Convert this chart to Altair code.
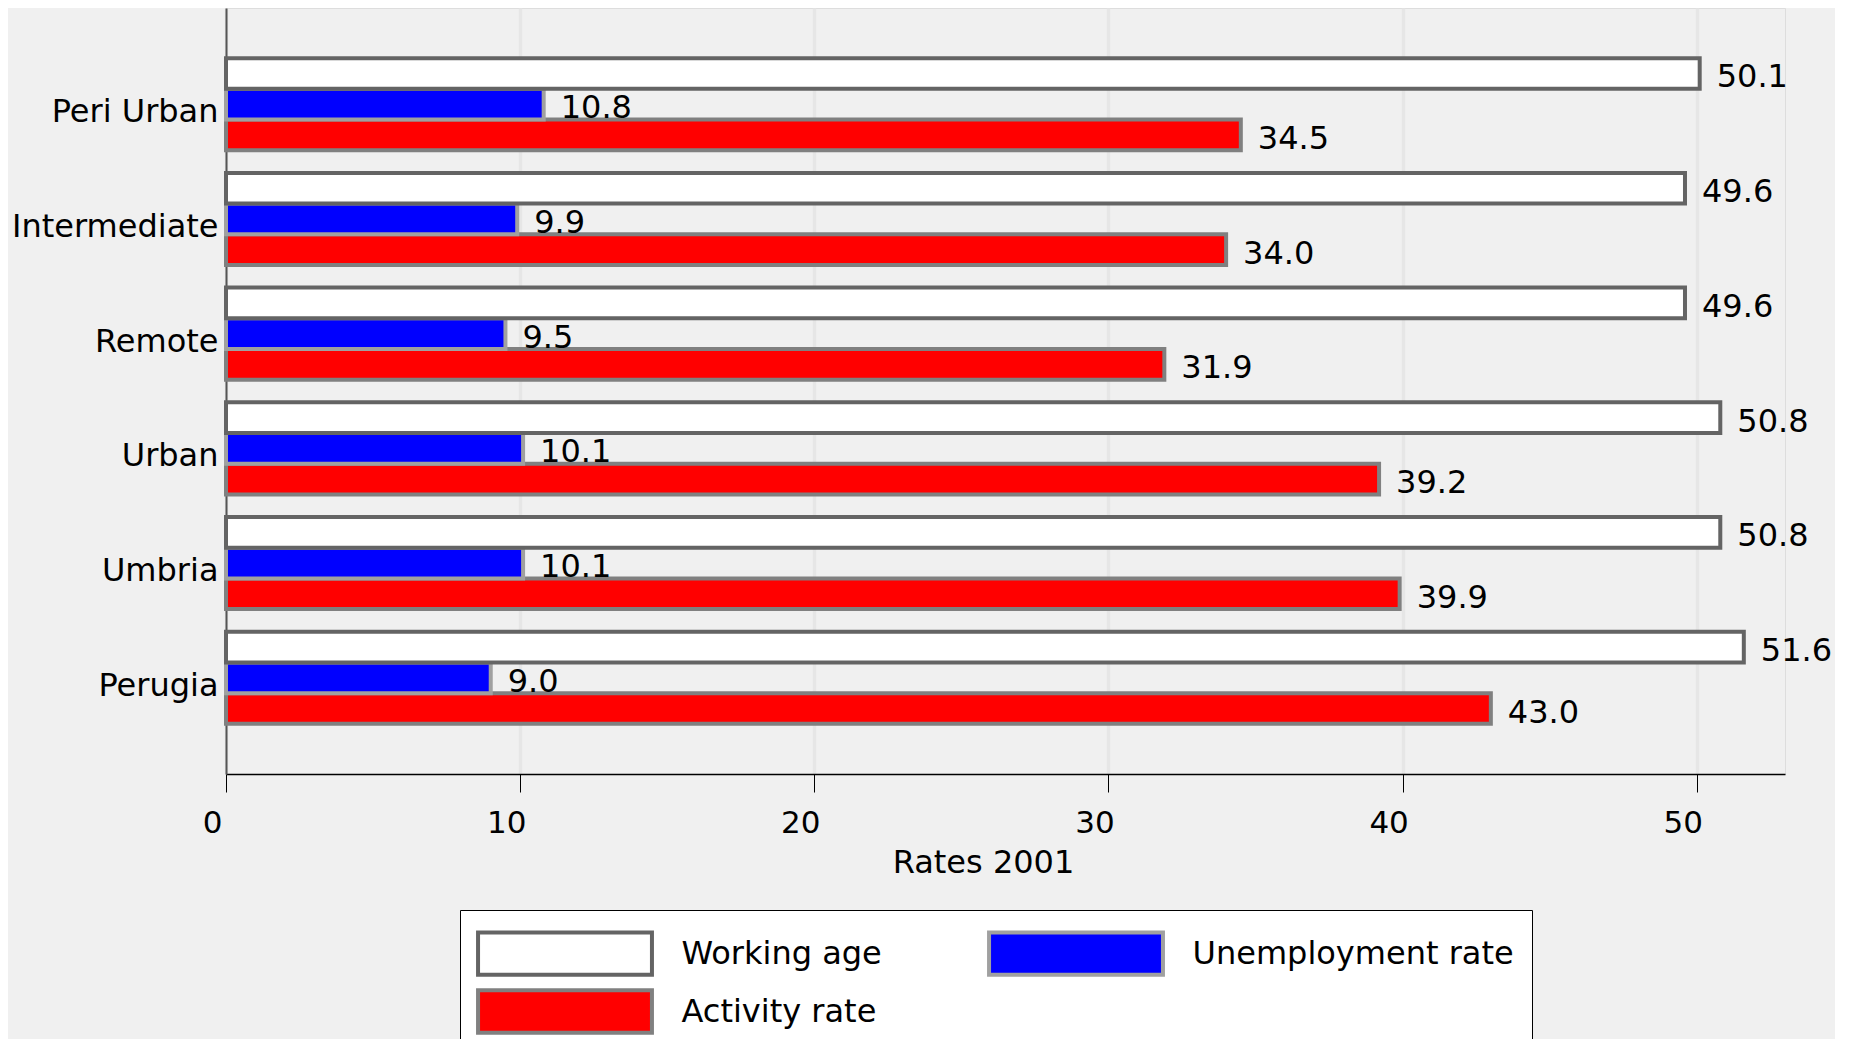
import altair as alt
import pandas as pd

regions = ["Peri Urban", "Intermediate", "Remote", "Urban", "Umbria", "Perugia"]
series_order = ["Working age", "Unemployment rate", "Activity rate"]
working_age = [50.1, 49.6, 49.6, 50.8, 50.8, 51.6]
unemployment = [10.8, 9.9, 9.5, 10.1, 10.1, 9.0]
activity = [34.5, 34.0, 31.9, 39.2, 39.9, 43.0]
x_ticks = [0, 10, 20, 30, 40, 50]

fills = ["#ffffff", "#0000ff", "#ff0000"]
strokes = ["#646464", "#a0a0a0", "#808080"]

# drawing order: activity first, working age last (its outline sits on top)
rows = []
for name, vals in [("Activity rate", activity), ("Unemployment rate", unemployment), ("Working age", working_age)]:
    for r, v in zip(regions, vals):
        rows.append({"region": r, "series": name, "value": v})
df = pd.DataFrame(rows)

FONT = "DejaVu Sans"

y_enc = alt.Y("region:N", sort=regions, title=None,
              scale=alt.Scale(paddingInner=0.198, paddingOuter=0.437),
              axis=alt.Axis(labelFontSize=32, labelColor="black", labelFont=FONT, labelLimit=0,
                            ticks=False, domainColor="#555555", domainWidth=2,
                            labelPadding=8, labelOffset=8, grid=False))
yoff = alt.YOffset("series:N", scale=alt.Scale(domain=series_order, paddingInner=0, paddingOuter=0))
x_enc = alt.X("value:Q", title="Rates 2001",
              scale=alt.Scale(domain=[0, 53], nice=False, zero=True),
              axis=alt.Axis(values=x_ticks, format="d", labelFontSize=31, labelColor="black",
                            labelFont=FONT, tickColor="black", tickWidth=1, tickSize=18,
                            labelPadding=16, labelOffset=-14, labelFlush=False,
                            domainColor="black", domainWidth=1.5,
                            grid=True, gridColor="#e6e6e6", gridWidth=3.5,
                            titleFontSize=32, titleFontWeight="normal", titleColor="black",
                            titleFont=FONT, titlePadding=9, titleX=757))

legend = alt.Legend(title=None, orient="none", legendX=234, legendY=902, direction="horizontal",
                    columns=2, columnPadding=99, rowPadding=-1, padding=18,
                    fillColor="white", strokeColor="black",
                    symbolType="M-3.7,-0.9H3.7V0.9H-3.7Z", symbolSize=2209, symbolStrokeWidth=4,
                    symbolOffset=61.5, labelOffset=91, labelFontSize=32, labelFont=FONT,
                    labelColor="black", labelLimit=0)

bars = alt.Chart(df).mark_bar(strokeWidth=4, opacity=1).encode(
    x=x_enc,
    y=y_enc,
    yOffset=yoff,
    fill=alt.Fill("series:N", scale=alt.Scale(domain=series_order, range=fills), legend=legend),
    stroke=alt.Stroke("series:N", scale=alt.Scale(domain=series_order, range=strokes), legend=legend),
)

labels = alt.Chart(df).mark_text(align="left", baseline="middle", dx=17, dy=4,
                                 fontSize=32, font=FONT, color="black").encode(
    x=alt.X("value:Q"),
    y=alt.Y("region:N", sort=regions),
    yOffset=yoff,
    text=alt.Text("value:Q", format=".1f"),
)

chart = alt.layer(bars, labels).properties(
    width=1559, height=766,
    padding={"left": 218, "top": 0, "right": 50, "bottom": 265},
    autosize=alt.AutoSizeParams(type="none"),
    background="#f0f0f0",
).configure_view(stroke=None, fill="white").configure(font=FONT)

chart.save("out.html", embed_options={"renderer": "svg", "actions": False})
